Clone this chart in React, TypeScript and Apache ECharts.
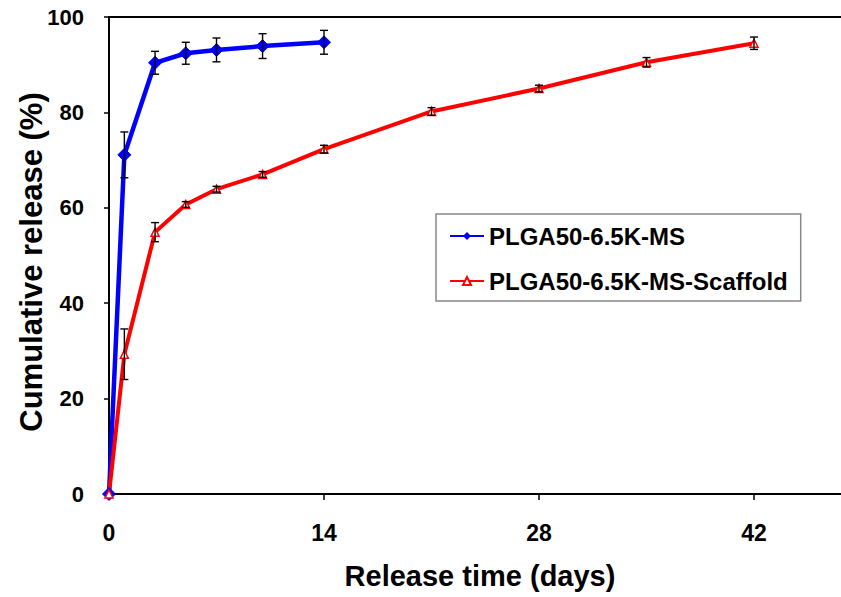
import React, { useEffect, useRef } from "react";
import * as echarts from "echarts";

const msDays = [0, 1, 3, 5, 7, 10, 14];
const msValues = [0, 71.1, 90.4, 92.4, 93.1, 93.9, 94.7];
const msErrors = [0, 4.8, 2.4, 2.3, 2.5, 2.6, 2.5];

const scDays = [0, 1, 3, 5, 7, 10, 14, 21, 28, 35, 42];
const scValues = [0, 29.3, 54.9, 60.7, 63.9, 67.0, 72.3, 80.2, 85.0, 90.5, 94.5];
const scErrors = [0, 5.3, 2.0, 0.6, 0.6, 0.6, 0.8, 0.8, 0.7, 1.0, 1.3];

const xTicks = [0, 14, 28, 42];
const yTicks = [0, 20, 40, 60, 80, 100];

const seriesNames = ["PLGA50-6.5K-MS", "PLGA50-6.5K-MS-Scaffold"];
const xTitle = "Release time (days)";
const yTitle = "Cumulative release (%)";

const FONT = "'Liberation Sans', Arial, sans-serif";

function errorRender(params: any, api: any) {
  const x = api.value(0);
  const y = api.value(1);
  const e = api.value(2);
  if (!e) return null;
  const top = api.coord([x, y + e]);
  const bot = api.coord([x, y - e]);
  const cap = 4;
  const style = { stroke: "#000", lineWidth: 1.4 };
  return {
    type: "group",
    children: [
      { type: "line", shape: { x1: top[0], y1: top[1], x2: bot[0], y2: bot[1] }, style },
      { type: "line", shape: { x1: top[0] - cap, y1: top[1], x2: top[0] + cap, y2: top[1] }, style },
      { type: "line", shape: { x1: bot[0] - cap, y1: bot[1], x2: bot[0] + cap, y2: bot[1] }, style },
    ],
  };
}

export default function App() {
  const ref = useRef<HTMLDivElement>(null);
  useEffect(() => {
    if (!ref.current) return;
    const chart = echarts.init(ref.current, null, { renderer: "svg" });
    const msData = msDays.map((d, i) => [d, msValues[i]]);
    const scData = scDays.map((d, i) => [d, scValues[i]]);
    const msErr = msDays.map((d, i) => [d, msValues[i], msErrors[i]]);
    const scErr = scDays.map((d, i) => [d, scValues[i], scErrors[i]]);
    chart.setOption({
      animation: false,
      backgroundColor: "#fff",
      grid: {
        left: 109,
        top: 17,
        width: 860,
        bottom: 103,
        show: false,
        containLabel: false,
        outerBoundsMode: "none",
      },
      xAxis: [
        {
          type: "value",
          min: 0,
          max: 56,
          interval: 14,
          axisLine: { show: true, onZero: false, lineStyle: { color: "#000", width: 2 } },
          axisTick: { show: true, length: 6, customValues: xTicks, lineStyle: { color: "#000", width: 1.5 } },
          splitLine: { show: false },
          axisLabel: {
            margin: 27,
            color: "#000",
            fontFamily: FONT,
            fontWeight: "bold",
            fontSize: 23,
            customValues: xTicks,
            formatter: (v: number) => String(v),
          },
        },
        {
          type: "value",
          position: "top",
          min: 0,
          max: 56,
          interval: 14,
          axisLine: { show: true, onZero: false, lineStyle: { color: "#000", width: 2 } },
          axisTick: { show: false },
          axisLabel: { show: false },
          splitLine: { show: false },
        },
      ],
      yAxis: {
        type: "value",
        min: 0,
        max: 100,
        interval: 20,
        axisLine: { show: true, onZero: false, lineStyle: { color: "#000", width: 2 } },
        axisTick: { show: true, length: 5, lineStyle: { color: "#000", width: 1.5 } },
        splitLine: { show: false },
        axisLabel: {
          margin: 25,
          color: "#000",
          fontFamily: FONT,
          fontWeight: "bold",
          fontSize: 22,
          formatter: (v: number) => (yTicks.includes(v) ? String(v) : ""),
        },
      },
      legend: {
        data: seriesNames,
        orient: "vertical",
        left: 436,
        top: 214,
        padding: [10, 13, 8, 13],
        itemGap: 21,
        itemWidth: 34,
        itemHeight: 10,
        backgroundColor: "#fff",
        borderColor: "#888",
        borderWidth: 1.5,
        borderRadius: 0,
        textStyle: {
          color: "#000",
          fontFamily: FONT,
          fontWeight: "bold",
          fontSize: 24,
        },
      },
      graphic: [
        {
          type: "text",
          x: 480,
          y: 576,
          style: {
            text: xTitle,
            fill: "#000",
            font: `bold 29px ${FONT}`,
            textAlign: "center",
            textVerticalAlign: "middle",
          },
        },
        {
          type: "text",
          x: 31,
          y: 262,
          rotation: Math.PI / 2,
          style: {
            text: yTitle,
            fill: "#000",
            font: `bold 31px ${FONT}`,
            textAlign: "center",
            textVerticalAlign: "middle",
          },
        },
      ],
      series: [
        {
          name: seriesNames[0],
          type: "line",
          data: msData,
          symbol: "diamond",
          symbolSize: 13,
          lineStyle: { color: "#0000ff", width: 4.5 },
          itemStyle: { color: "#0000ff", borderColor: "#0000ff" },
          z: 3,
        },
        {
          name: seriesNames[1],
          type: "line",
          data: scData,
          symbol: "triangle",
          symbolSize: 8,
          lineStyle: { color: "#ff0000", width: 4 },
          itemStyle: { color: "#fff", borderColor: "#ff0000", borderWidth: 1.5 },
          z: 3,
        },
        {
          name: "ms-err",
          type: "custom",
          data: msErr,
          encode: { x: 0, y: 1 },
          renderItem: errorRender,
          z: 4,
          silent: true,
        },
        {
          name: "sc-err",
          type: "custom",
          data: scErr,
          encode: { x: 0, y: 1 },
          renderItem: errorRender,
          z: 4,
          silent: true,
        },
      ],
    });
    return () => chart.dispose();
  }, []);
  return (
    <div style={{ position: "fixed", left: 0, top: 0, width: 841, height: 597, overflow: "hidden", background: "#fff" }}>
      <div ref={ref} style={{ width: 841, height: 597 }} />
    </div>
  );
}
